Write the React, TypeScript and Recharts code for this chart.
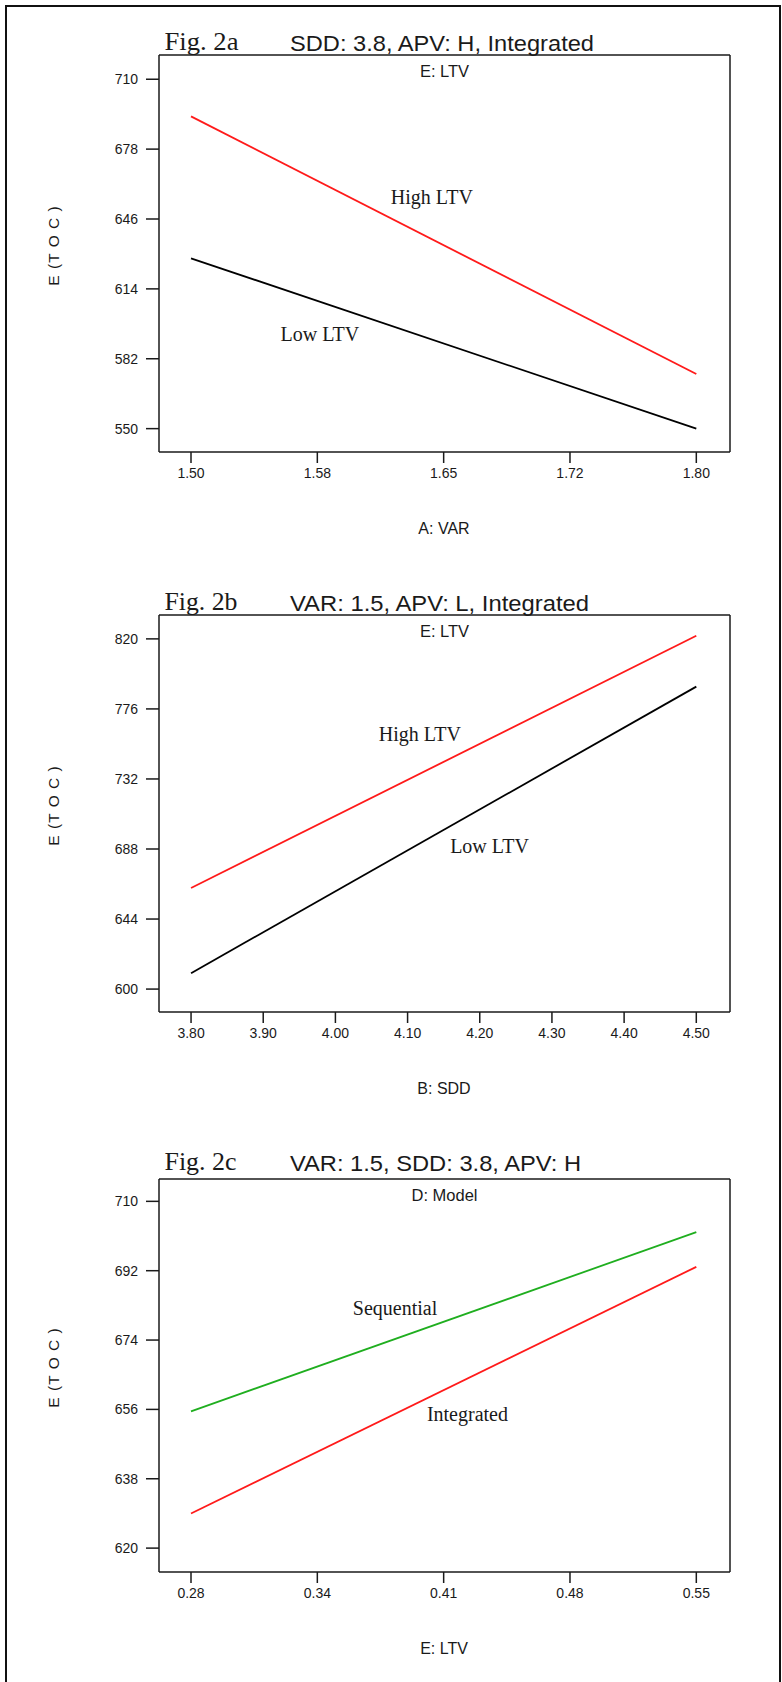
import React from 'react';
import { LineChart, Line, XAxis, YAxis, ReferenceLine, ReferenceDot } from 'recharts';

// Fig. 2a  (x: A: VAR)
const varLevels = [1.5, 1.8];
const varHighLTV = [693, 575];
const varLowLTV = [628, 550];
const varXTicks = [1.5, 1.575, 1.65, 1.725, 1.8];
const varXTickLabels = ['1.50', '1.58', '1.65', '1.72', '1.80'];
const varYTicks = [550, 582, 614, 646, 678, 710];

// Fig. 2b  (x: B: SDD)
const sddLevels = [3.8, 4.5];
const sddHighLTV = [663.5, 822];
const sddLowLTV = [610, 790];
const sddXTicks = [3.8, 3.9, 4.0, 4.1, 4.2, 4.3, 4.4, 4.5];
const sddXTickLabels = ['3.80', '3.90', '4.00', '4.10', '4.20', '4.30', '4.40', '4.50'];
const sddYTicks = [600, 644, 688, 732, 776, 820];

// Fig. 2c  (x: E: LTV)
const ltvLevels = [0.28, 0.55];
const ltvSequential = [655.5, 702];
const ltvIntegrated = [629, 693];
const ltvXTicks = [0.28, 0.3475, 0.415, 0.4825, 0.55];
const ltvXTickLabels = ['0.28', '0.34', '0.41', '0.48', '0.55'];
const ltvYTicks = [620, 638, 656, 674, 692, 710];

const FONT_SANS = '"Liberation Sans", Arial, Helvetica, sans-serif';
const FONT_SERIF = '"Liberation Serif", "Times New Roman", serif';
const INK = '#1a1a1a';
const RED = '#ff1a1a';
const BLACK = '#000000';
const GREEN = '#1fae1f';

type Series = { key: string; color: string; values: number[] };
type Note = { text: string; x: number; y: number };

interface PanelProps {
  top: number;
  fig: string;
  figWidth: number;
  subtitle: string;
  subtitleWidth: number;
  header: string;
  xLabel: string;
  xs: number[];
  series: Series[];
  xDomain: [number, number];
  yDomain: [number, number];
  xTicks: number[];
  xTickLabels: string[];
  yTicks: number[];
  notes: Note[];
  boxTop: number;
}

const Panel: React.FC<PanelProps> = ({
  top, fig, figWidth, subtitle, subtitleWidth, header, xLabel, xs, series,
  xDomain, yDomain, xTicks, xTickLabels, yTicks, notes, boxTop,
}) => {
  const rows = xs.map((x, i) => {
    const row: Record<string, number> = { x };
    series.forEach((s) => { row[s.key] = s.values[i]; });
    return row;
  });
  const boxMid = (boxTop + 452) / 2;

  return (
    <div style={{ position: 'absolute', left: 0, top, width: 782, height: 560 }}>
      <LineChart
        width={782}
        height={560}
        data={rows}
        margin={{ top: boxTop, right: 52, bottom: 78, left: 0 }}
      >
        <XAxis
          dataKey="x"
          type="number"
          domain={xDomain}
          ticks={xTicks}
          interval={0}
          height={30}
          tickFormatter={(v: number) => xTickLabels[xTicks.indexOf(v)] ?? String(v)}
          tickSize={11}
          tickMargin={5}
          axisLine={{ stroke: INK, strokeWidth: 1.5 }}
          tickLine={{ stroke: INK, strokeWidth: 1.5 }}
          tick={{ fill: INK, fontSize: 14, fontFamily: FONT_SANS }}
        />
        <YAxis
          type="number"
          domain={yDomain}
          ticks={yTicks}
          interval={0}
          width={159}
          tickSize={13}
          tickMargin={8}
          axisLine={{ stroke: INK, strokeWidth: 1.5 }}
          tickLine={{ stroke: INK, strokeWidth: 1.5 }}
          tick={{ fill: INK, fontSize: 14, fontFamily: FONT_SANS }}
        />
        <ReferenceLine y={yDomain[1]} stroke={INK} strokeWidth={1.5} />
        <ReferenceLine x={xDomain[1]} stroke={INK} strokeWidth={1.5} />
        {series.map((s) => (
          <Line
            key={s.key}
            type="linear"
            dataKey={s.key}
            stroke={s.color}
            strokeWidth={1.8}
            dot={false}
            isAnimationActive={false}
          />
        ))}
        {notes.map((n) => (
          <ReferenceDot
            key={n.text}
            x={n.x}
            y={n.y}
            r={0}
            fill="none"
            stroke="none"
            label={{ value: n.text, position: 'center', fill: INK, fontSize: 20, fontFamily: FONT_SERIF }}
          />
        ))}
      </LineChart>
      <svg
        width={782}
        height={560}
        style={{ position: 'absolute', left: 0, top: 0, pointerEvents: 'none' }}
      >
        <text x={164.5} y={50} fontFamily={FONT_SERIF} fontSize={26} fill={INK}
          textLength={figWidth} lengthAdjust="spacingAndGlyphs">{fig}</text>
        <text x={290} y={51} fontFamily={FONT_SANS} fontSize={22} fill={INK}
          textLength={subtitleWidth} lengthAdjust="spacingAndGlyphs">{subtitle}</text>
        <text x={444.5} y={boxTop + 22} textAnchor="middle" fontFamily={FONT_SANS}
          fontSize={16.5} fill={INK}>{header}</text>
        <text x={444} y={534} textAnchor="middle" fontFamily={FONT_SANS}
          fontSize={16} fill={INK}>{xLabel}</text>
        <text x={59} y={boxMid - 8} textAnchor="middle" fontFamily={FONT_SANS}
          fontSize={15.5} fill={INK} letterSpacing={1}
          transform={`rotate(-90 59 ${boxMid - 8})`}>E (T O C )</text>
      </svg>
    </div>
  );
};

export default function App() {
  return (
    <div style={{ position: 'absolute', left: 0, top: 0, width: 782, height: 1682, background: '#fff' }}>
      <div
        style={{
          position: 'absolute', left: 5, top: 5, width: 772, height: 1677,
          borderTop: '2.5px solid #111', borderLeft: '2.5px solid #111', borderRight: '2.5px solid #111',
        }}
      />
      <Panel
        top={0}
        fig="Fig. 2a"
        figWidth={74}
        subtitle="SDD: 3.8, APV: H, Integrated"
        subtitleWidth={304}
        header="E: LTV"
        xLabel="A: VAR"
        xs={varLevels}
        series={[
          { key: 'high', color: RED, values: varHighLTV },
          { key: 'low', color: BLACK, values: varLowLTV },
        ]}
        xDomain={[1.481, 1.82]}
        yDomain={[539.3, 721.1]}
        xTicks={varXTicks}
        xTickLabels={varXTickLabels}
        yTicks={varYTicks}
        notes={[
          { text: 'High LTV', x: 1.643, y: 655.9 },
          { text: 'Low LTV', x: 1.5765, y: 593.3 },
        ]}
        boxTop={55}
      />
      <Panel
        top={560}
        fig="Fig. 2b"
        figWidth={73}
        subtitle="VAR: 1.5, APV: L, Integrated"
        subtitleWidth={299}
        header="E: LTV"
        xLabel="B: SDD"
        xs={sddLevels}
        series={[
          { key: 'high', color: RED, values: sddHighLTV },
          { key: 'low', color: BLACK, values: sddLowLTV },
        ]}
        xDomain={[3.7556, 4.5467]}
        yDomain={[585.6, 835]}
        xTicks={sddXTicks}
        xTickLabels={sddXTickLabels}
        yTicks={sddYTicks}
        notes={[
          { text: 'High LTV', x: 4.117, y: 760.3 },
          { text: 'Low LTV', x: 4.2135, y: 689.7 },
        ]}
        boxTop={55}
      />
      <Panel
        top={1120}
        fig="Fig. 2c"
        figWidth={72}
        subtitle="VAR: 1.5, SDD: 3.8, APV: H"
        subtitleWidth={291}
        header="D: Model"
        xLabel="E: LTV"
        xs={ltvLevels}
        series={[
          { key: 'seq', color: GREEN, values: ltvSequential },
          { key: 'int', color: RED, values: ltvIntegrated },
        ]}
        xDomain={[0.2629, 0.568]}
        yDomain={[613.8, 715.8]}
        xTicks={ltvXTicks}
        xTickLabels={ltvXTickLabels}
        yTicks={ltvYTicks}
        notes={[
          { text: 'Sequential', x: 0.389, y: 682.4 },
          { text: 'Integrated', x: 0.4277, y: 654.9 },
        ]}
        boxTop={59}
      />
    </div>
  );
}
